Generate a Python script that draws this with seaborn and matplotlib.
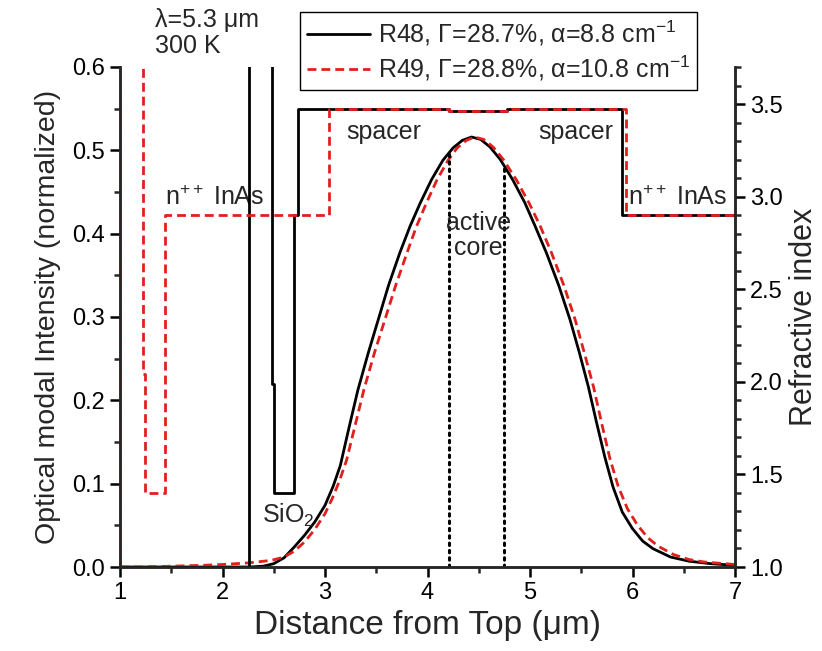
import numpy as np
import pandas as pd
import matplotlib
matplotlib.use("Agg")
import matplotlib.pyplot as plt
import seaborn as sns
from matplotlib.lines import Line2D
from matplotlib.ticker import MultipleLocator, FormatStrFormatter

# ---------------- data ----------------
# Mode intensity, R48 (black)
x_r48 = [1.00, 2.26, 2.40, 2.50, 2.60, 2.70, 2.80, 2.90, 3.00, 3.08, 3.15, 3.23, 3.32, 3.42,
         3.52, 3.62, 3.73, 3.83, 3.93, 4.04, 4.15, 4.25, 4.34, 4.43, 4.52, 4.61, 4.71,
         4.83, 4.95, 5.05, 5.16, 5.28, 5.39, 5.48, 5.57, 5.65, 5.73, 5.81, 5.90, 6.00,
         6.10, 6.20, 6.37, 6.55, 6.76, 7.00]
i_r48 = [0.000, 0.000, 0.001, 0.004, 0.011, 0.024, 0.038, 0.054, 0.074, 0.097, 0.122, 0.165,
         0.212, 0.256, 0.297, 0.338, 0.377, 0.409, 0.437, 0.465, 0.488, 0.503, 0.512, 0.516,
         0.513, 0.504, 0.489, 0.465, 0.437, 0.409, 0.377, 0.338, 0.297, 0.258, 0.216, 0.173,
         0.132, 0.096, 0.066, 0.046, 0.031, 0.022, 0.012, 0.007, 0.004, 0.002]
# Mode intensity, R49 (red)
x_r49 = [1.00, 1.22, 1.50, 1.80, 2.00, 2.26, 2.48, 2.60, 2.70, 2.80, 2.90, 3.00, 3.07, 3.14,
         3.21, 3.29, 3.38, 3.48, 3.585, 3.69, 3.80, 3.89, 3.99, 4.09, 4.20, 4.29, 4.38,
         4.46, 4.55, 4.64, 4.74, 4.87, 4.99, 5.10, 5.21, 5.33, 5.44, 5.53, 5.62, 5.70,
         5.78, 5.86, 5.95, 6.05, 6.15, 6.25, 6.40, 6.55, 6.70, 7.00]
i_r49 = [0.000, 0.000, 0.001, 0.002, 0.003, 0.005, 0.008, 0.012, 0.019, 0.030, 0.045, 0.064,
         0.082, 0.103, 0.128, 0.168, 0.213, 0.256, 0.297, 0.338, 0.377, 0.408, 0.437, 0.464,
         0.488, 0.503, 0.512, 0.516, 0.513, 0.504, 0.489, 0.464, 0.437, 0.409, 0.377, 0.338,
         0.297, 0.257, 0.216, 0.172, 0.130, 0.097, 0.070, 0.050, 0.035, 0.025, 0.015, 0.009,
         0.006, 0.003]

# Refractive index profiles (layer start positions and index; step plots)
z_r48 = [1.00, 2.26, 2.48, 2.50, 2.70, 2.74, 4.21, 4.78, 5.90, 7.00]
n_r48 = [1.00, 4.50, 1.99, 1.40, 2.90, 3.475, 3.462, 3.475, 2.90, 2.90]
z_r49 = [0.99, 1.00, 1.22, 1.24, 1.44, 3.04, 4.21, 4.78, 5.94, 7.00]
n_r49 = [1.00, 4.50, 2.04, 1.40, 2.90, 3.475, 3.462, 3.475, 2.90, 2.90]

# active core boundaries
core_edges = [4.21, 4.75]

labels = ["R48, \u0393=28.7%, \u03b1=8.8 cm$^{-1}$",
          "R49, \u0393=28.8%, \u03b1=10.8 cm$^{-1}$"]

# ---------------- style ----------------
sns.set_theme(style="ticks")
plt.rcParams["font.family"] = ["Liberation Sans", "DejaVu Sans"]
plt.rcParams["mathtext.fontset"] = "custom"
plt.rcParams["mathtext.rm"] = "Liberation Sans"
plt.rcParams["mathtext.it"] = "Liberation Sans:italic"
plt.rcParams["axes.linewidth"] = 1.8
plt.rcParams["xtick.direction"] = "out"
plt.rcParams["ytick.direction"] = "out"

fig = plt.figure(figsize=(8.22, 6.51), dpi=100)
ax = fig.add_axes([120 / 822, 1 - 567 / 651, 615 / 822, 500 / 651])
ax2 = ax.twinx()

RED = "#e0201c"
dash = (0, (3.2, 1.8))

df48 = pd.DataFrame({"x": x_r48, "y": i_r48})
df49 = pd.DataFrame({"x": x_r49, "y": i_r49})
sns.lineplot(data=df48, x="x", y="y", ax=ax, color="black", lw=2.0, estimator=None, sort=False)
sns.lineplot(data=df49, x="x", y="y", ax=ax, color=RED, lw=2.0, linestyle=dash,
             estimator=None, sort=False)

dn48 = pd.DataFrame({"z": z_r48, "n": n_r48})
dn49 = pd.DataFrame({"z": z_r49, "n": n_r49})
sns.lineplot(data=dn48, x="z", y="n", ax=ax2, color="black", lw=2.0, drawstyle="steps-post",
             estimator=None, sort=False, clip_on=True)
sns.lineplot(data=dn49, x="z", y="n", ax=ax2, color=RED, lw=2.0, linestyle=dash,
             drawstyle="steps-post", estimator=None, sort=False, clip_on=True)

# active core dotted lines
tops = np.interp(core_edges, x_r48, i_r48)
ax.vlines(core_edges, 0, tops, colors="black", linestyles=[(0, (0.8, 1.6))], lw=2.2,
          capstyle="round")

# axes
ax.set_xlim(1, 7)
ax.set_ylim(0, 0.6)
ax2.set_ylim(1.0, 3.7)
ax.xaxis.set_major_locator(MultipleLocator(1))
ax.xaxis.set_minor_locator(MultipleLocator(0.5))
ax.yaxis.set_major_locator(MultipleLocator(0.1))
ax.yaxis.set_minor_locator(MultipleLocator(0.05))
ax2.yaxis.set_major_locator(MultipleLocator(0.5))
ax2.yaxis.set_minor_locator(MultipleLocator(0.1))
ax.yaxis.set_major_formatter(FormatStrFormatter("%.1f"))
ax2.yaxis.set_major_formatter(FormatStrFormatter("%.1f"))

for a in (ax, ax2):
    a.spines["top"].set_visible(False)
    a.tick_params(which="major", length=7, width=1.8, labelsize=17, colors="black", pad=4)
    a.tick_params(which="minor", length=4, width=1.8)

ax.set_xlabel("Distance from Top (\u03bcm)", fontsize=24, labelpad=4)
ax.set_ylabel("Optical modal Intensity (normalized)", fontsize=20.5, labelpad=8)
ax2.set_ylabel("Refractive index", fontsize=22, labelpad=4)

# annotations
fs = 18
ax.text(1.44, 0.428, "n$^{++}$ InAs", fontsize=fs, ha="left", va="bottom")
ax.text(5.96, 0.428, "n$^{++}$ InAs", fontsize=fs, ha="left", va="bottom")
ax.text(3.21, 0.513, "spacer", fontsize=fs, ha="left", va="baseline")
ax.text(5.08, 0.513, "spacer", fontsize=fs, ha="left", va="baseline")
ax.text(4.50, 0.368, "active\ncore", fontsize=fs, ha="center", va="bottom", linespacing=1.05)
ax.text(2.385, 0.078, "SiO$_2$", fontsize=fs, ha="left", va="top")
fig.text(155 / 822, 1 - 33 / 651, "\u03bb=5.3 \u03bcm\n300 K", fontsize=fs, ha="left",
         va="center", linespacing=1.15)

handles = [Line2D([], [], color="black", lw=2.0),
           Line2D([], [], color=RED, lw=2.0, linestyle=dash)]
leg = ax2.legend(handles, labels, loc="upper left", bbox_to_anchor=(180 / 615, (567 - 12) / 500),
                 fontsize=18, frameon=True, fancybox=False, framealpha=1,
                 edgecolor="black", handlelength=2.5, handletextpad=0.35,
                 borderpad=0.28, labelspacing=0.22, borderaxespad=0)
leg.get_frame().set_linewidth(1.0)

fig.savefig("out.png", dpi=100)
